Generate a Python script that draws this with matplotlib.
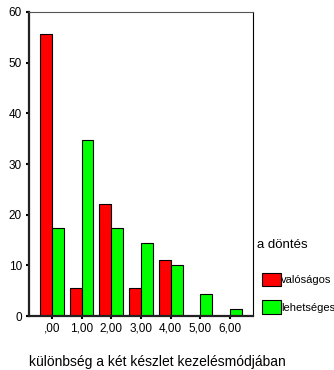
import numpy as np
import matplotlib.pyplot as plt
from matplotlib.patches import Patch

plt.rcParams['font.family'] = ['Liberation Sans', 'DejaVu Sans']

categories = [",00", "1,00", "2,00", "3,00", "4,00", "5,00", "6,00"]
valosagos = [55.6, 5.6, 22.2, 5.6, 11.1, 0.0, 0.0]
lehetseges = [17.4, 34.8, 17.4, 14.5, 10.1, 4.3, 1.4]
yticks = [0, 10, 20, 30, 40, 50, 60]

RED = "#ff0000"
GREEN = "#00ff00"

fig = plt.figure(figsize=(3.34, 3.70), dpi=100)
ax = fig.add_axes([0.0868, 0.1459, 0.6707, 0.8217])

x = np.arange(len(categories))
w = 0.4
ax.bar(x - w / 2, valosagos, w, color=RED, edgecolor="black", linewidth=0.8)
ax.bar(x + w / 2, lehetseges, w, color=GREEN, edgecolor="black", linewidth=0.8)

ax.set_xlim(-0.77, 6.77)
ax.set_ylim(0, 60)
ax.set_xticks(x)
ax.set_xticklabels(categories, fontsize=8.5)
ax.set_yticks(yticks)
ax.set_yticklabels([str(v) for v in yticks], fontsize=8.5)
ax.tick_params(axis="both", length=2, width=1.5, pad=3, color="black")

for side in ["left", "bottom"]:
    ax.spines[side].set_linewidth(1.6)
    ax.spines[side].set_color("#222222")
ax.spines["top"].set_linewidth(0.8)
ax.spines["top"].set_color("#555555")
ax.spines["right"].set_linewidth(0.8)
ax.spines["right"].set_color("black")

fig.text(0.4716, 0.0216, "különbség a két készlet kezelésmódjában",
         ha="center", va="center", fontsize=10)

# legend title drawn separately (sits left of the patches)
fig.text(257 / 334, 1 - 245 / 370, "a döntés", ha="left", va="center",
         fontsize=9.5)

handles = [Patch(facecolor=RED, edgecolor="black", linewidth=0.8),
           Patch(facecolor=GREEN, edgecolor="black", linewidth=0.8)]
leg = fig.legend(handles, ["valóságos", "lehetséges"],
                 loc="upper left", bbox_to_anchor=(0.784, 0.263),
                 frameon=False, fontsize=8,
                 handlelength=1.7, handleheight=1.45, handletextpad=0.05,
                 labelspacing=1.3, borderpad=0, borderaxespad=0)

fig.savefig("out.png", dpi=100)
